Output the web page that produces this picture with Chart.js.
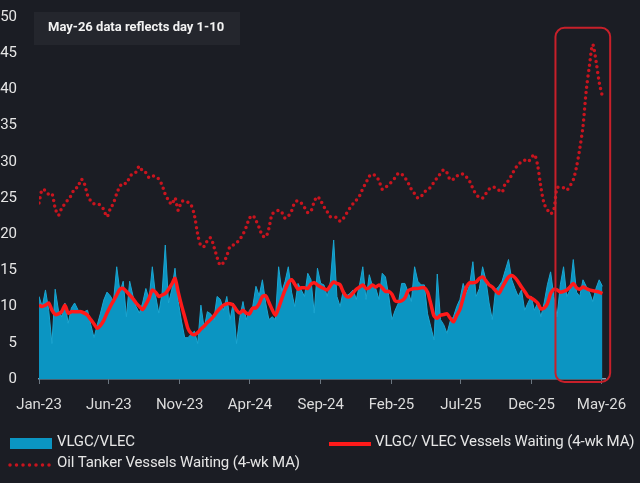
<!DOCTYPE html>
<html>
<head>
<meta charset="utf-8">
<script src="https://cdn.jsdelivr.net/npm/chart.js@4.4.1/dist/chart.umd.min.js"></script>
<style>
html, body { margin: 0; padding: 0; background: #1b1d24; }
#wrap { width: 640px; height: 483px; position: relative; }
</style>
</head>
<body>
<div id="wrap"><canvas id="chart" width="640" height="483"></canvas></div>
<script>
// weekly series, first week = start of Jan-23
const startDate = '2023-01-01';

const vlgc = [
    11.4, 10.0, 12.3, 9.5, 4.9, 12.4, 9.5, 8.6, 10.5, 7.7,
    9.8, 10.5, 9.6, 9.1, 9.3, 9.5, 7.5, 5.7, 7.5, 9.1,
    10.9, 12.0, 11.5, 10.7, 15.5, 12.0, 13.5, 8.6, 13.5, 11.5,
    10.0, 9.1, 10.5, 12.5, 11.0, 15.5, 11.5, 9.1, 11.8, 18.5,
    10.5, 12.3, 15.3, 10.7, 8.0, 5.7, 5.7, 6.2, 6.6, 4.9,
    10.2, 7.0, 9.3, 9.0, 8.2, 11.4, 11.0, 9.5, 11.4, 8.2,
    10.5, 4.9, 8.5, 10.7, 8.2, 9.5, 10.0, 12.8, 11.5, 13.7,
    10.5, 8.2, 8.6, 8.2, 15.5, 12.1, 13.5, 15.5, 12.0, 10.0,
    13.2, 12.3, 11.4, 14.6, 13.7, 9.1, 15.3, 13.2, 13.0, 11.4,
    13.5, 19.2, 11.4, 10.0, 12.3, 11.5, 11.8, 12.3, 11.0, 13.0,
    15.5, 11.0, 14.4, 12.8, 12.5, 11.0, 14.6, 14.1, 11.5, 8.2,
    9.5, 10.5, 13.2, 13.2, 12.0, 10.7, 15.5, 13.5, 13.0, 13.0,
    9.0, 7.2, 5.4, 14.5, 8.2, 7.5, 6.3, 8.0, 8.6, 10.0,
    11.0, 13.2, 11.8, 13.0, 16.2, 11.4, 12.5, 15.5, 13.7, 10.5,
    8.2, 12.3, 12.8, 13.5, 15.0, 16.5, 13.7, 12.5, 11.4, 12.3,
    9.5, 10.5, 11.4, 9.5, 10.5, 8.6, 10.5, 13.0, 14.8, 11.4,
    8.6, 13.0, 15.5, 11.4, 12.3, 16.5, 12.0, 11.4, 13.7, 12.8,
    12.0, 10.7, 12.5, 13.7, 12.8
];

const vlgcMA = [
    10.2, 10.0, 10.2, 10.5, 9.5, 8.9, 9.0, 9.3, 10.2, 9.1,
    9.3, 9.3, 9.3, 9.3, 9.1, 8.8, 8.2, 7.6, 7.0, 7.4,
    8.1, 9.1, 10.0, 10.8, 11.6, 12.4, 12.5, 12.1, 11.6, 11.1,
    10.5, 10.0, 9.6, 10.3, 11.2, 12.3, 12.0, 11.4, 11.6, 11.8,
    12.4, 13.1, 13.9, 12.0, 10.2, 8.6, 7.0, 6.3, 6.1, 6.4,
    6.9, 7.3, 7.8, 8.2, 8.7, 9.3, 9.8, 10.2, 10.4, 10.4,
    10.2, 9.5, 9.1, 9.5, 9.1, 9.0, 9.8, 9.8, 10.4, 11.4,
    11.5, 10.6, 9.6, 8.8, 9.8, 11.1, 12.3, 13.3, 13.7, 13.1,
    12.4, 12.6, 12.6, 12.5, 13.1, 13.3, 13.0, 12.7, 12.5, 12.3,
    12.9, 13.4, 13.2, 13.0, 12.0, 11.4, 11.4, 11.9, 12.4, 12.7,
    13.0, 12.5, 12.6, 13.0, 12.7, 13.0, 12.6, 12.1, 12.1, 11.7,
    10.8, 10.7, 10.8, 11.2, 12.2, 12.4, 12.5, 12.5, 12.6, 12.6,
    12.0, 10.4, 8.7, 8.4, 8.8, 8.9, 9.0, 8.4, 7.9, 8.8,
    9.6, 11.2, 12.7, 13.3, 13.3, 13.4, 13.9, 14.1, 13.6, 13.0,
    12.7, 12.2, 11.8, 12.6, 13.4, 14.1, 14.3, 14.0, 13.4, 12.7,
    12.1, 11.4, 11.2, 10.9, 10.5, 9.7, 9.8, 10.4, 11.8, 12.4,
    12.3, 12.0, 12.1, 12.3, 12.7, 13.2, 12.6, 12.4, 12.7, 12.5,
    12.3, 12.2, 12.1, 12.0, 11.8
];

const oilMA = [
    24.3, 26.2, 26.0, 25.5, 25.6, 23.6, 22.6, 23.6, 24.2, 24.8,
    25.4, 26.3, 26.5, 27.6, 27.0, 25.4, 24.6, 24.2, 24.2, 24.0,
    23.4, 22.4, 23.5, 24.3, 25.6, 26.6, 27.1, 27.0, 27.9, 28.4,
    28.6, 29.4, 28.7, 28.5, 27.8, 28.0, 28.0, 27.6, 26.8, 25.5,
    24.7, 24.1, 25.0, 23.3, 24.5, 24.6, 24.4, 24.0, 22.6, 20.0,
    18.4, 18.3, 19.1, 19.5, 18.3, 16.8, 15.7, 16.1, 17.0, 18.3,
    18.5, 18.8, 19.3, 20.0, 21.0, 22.2, 22.6, 21.9, 20.9, 19.8,
    19.6, 20.8, 22.8, 23.0, 23.3, 23.0, 22.2, 22.5, 23.2, 24.4,
    24.6, 24.3, 23.7, 23.0, 23.2, 24.5, 25.2, 24.6, 23.8, 23.1,
    22.4, 22.4, 22.3, 21.8, 22.2, 22.9, 23.6, 24.2, 24.7, 25.3,
    26.3, 27.1, 28.0, 28.3, 28.0, 27.4, 26.2, 26.5, 26.8, 27.3,
    27.8, 28.4, 28.3, 27.8, 27.1, 26.2, 25.6, 25.0, 25.2, 25.8,
    26.2, 26.5, 27.2, 27.8, 28.4, 28.9, 28.5, 27.5, 27.6, 28.0,
    28.3, 28.3, 27.9, 27.3, 26.3, 25.5, 25.1, 25.0, 25.6, 26.2,
    26.5, 26.4, 26.1, 25.8, 27.0, 27.4, 28.2, 29.0, 29.6, 30.0,
    30.2, 30.0, 30.5, 31.0, 29.5, 26.5, 24.2, 23.4, 22.8, 23.4,
    26.4, 26.5, 26.4, 26.1, 26.7, 27.5, 29.3, 31.8, 34.9, 39.8,
    43.3, 46.2, 44.0, 41.0, 39.0
];

const tickDates = ['2023-01-01', '2023-06-01', '2023-11-01', '2024-04-01', '2024-09-01',
    '2025-02-01', '2025-07-01', '2025-12-01', '2026-05-01'];
const tickLabels = ['Jan-23', 'Jun-23', 'Nov-23', 'Apr-24', 'Sep-24', 'Feb-25', 'Jul-25', 'Dec-25', 'May-26'];

// highlighted window (weeks) and value range for the red box
const boxWeeks = [159.5, 176.4];
const boxValues = [-0.4, 48.5];

const noteText = 'May-26 data reflects day 1-10';
const seriesNames = ['VLGC/VLEC', 'VLGC/ VLEC Vessels Waiting (4-wk MA)', 'Oil Tanker Vessels Waiting (4-wk MA)'];

const DAY = 86400000;
const toWeek = d => (new Date(d) - new Date(startDate)) / (7 * DAY);
const tickWeeks = tickDates.map(toWeek);
const asXY = arr => arr.map((v, i) => ({ x: i, y: v }));

const FONT = 'Roboto, "Noto Sans", sans-serif';
const BG = '#1b1d24';
const AREA = '#0b95c2';
const RED = '#ff1a1a';
const DOT_RED = '#c8141e';

const bgPlugin = {
    id: 'bg',
    beforeDraw(chart) {
        const ctx = chart.ctx;
        ctx.save();
        ctx.fillStyle = BG;
        ctx.fillRect(0, 0, chart.width, chart.height);
        ctx.restore();
    }
};

const boxPlugin = {
    id: 'highlight',
    afterDatasetsDraw(chart) {
        const { ctx, scales: { x, y } } = chart;
        const l = x.getPixelForValue(boxWeeks[0]);
        const r = x.getPixelForValue(boxWeeks[1]);
        const t = y.getPixelForValue(boxValues[1]);
        const b = y.getPixelForValue(boxValues[0]);
        ctx.save();
        ctx.strokeStyle = '#c8202a';
        ctx.lineWidth = 2;
        ctx.beginPath();
        ctx.roundRect(l, t, r - l, b - t, 9);
        ctx.stroke();
        ctx.restore();
    }
};

const notePlugin = {
    id: 'note',
    afterDraw(chart) {
        const ctx = chart.ctx;
        ctx.save();
        ctx.fillStyle = 'rgba(255,255,255,0.045)';
        ctx.fillRect(34, 12, 206, 33);
        ctx.fillStyle = '#f2f2f2';
        ctx.font = 'bold 13px ' + FONT;
        ctx.textBaseline = 'middle';
        ctx.fillText(noteText, 48, 28);
        ctx.restore();
    }
};

const legendPlugin = {
    id: 'customLegend',
    afterDraw(chart) {
        const ctx = chart.ctx;
        const ds = chart.data.datasets;
        ctx.save();
        ctx.font = '15px ' + FONT;
        ctx.letterSpacing = '-0.15px';
        ctx.textBaseline = 'middle';
        // area swatch
        ctx.fillStyle = ds[0].backgroundColor;
        ctx.fillRect(10, 438, 42, 11);
        ctx.fillStyle = '#e6e6e6';
        ctx.fillText(ds[0].label, 57, 442);
        // MA line
        ctx.strokeStyle = ds[1].borderColor;
        ctx.lineWidth = 4;
        ctx.beginPath();
        ctx.moveTo(329, 444);
        ctx.lineTo(371, 444);
        ctx.stroke();
        ctx.fillText(ds[1].label, 375, 442);
        // dotted line
        ctx.strokeStyle = ds[2].borderColor;
        ctx.lineWidth = 3.5;
        ctx.lineCap = 'round';
        ctx.setLineDash([0, 6.5]);
        ctx.beginPath();
        ctx.moveTo(10, 465);
        ctx.lineTo(50, 465);
        ctx.stroke();
        ctx.setLineDash([]);
        ctx.fillText(ds[2].label, 57, 463);
        ctx.restore();
    }
};

new Chart(document.getElementById('chart'), {
    type: 'line',
    data: {
        datasets: [
            {
                label: seriesNames[0],
                data: asXY(vlgc),
                backgroundColor: AREA,
                borderColor: '#1aa6d2',
                borderWidth: 1,
                fill: 'origin',
                pointRadius: 0,
                tension: 0,
                order: 3
            },
            {
                label: seriesNames[1],
                data: asXY(vlgcMA),
                borderColor: RED,
                borderWidth: 3.5,
                fill: false,
                pointRadius: 0,
                tension: 0.25,
                order: 1
            },
            {
                label: seriesNames[2],
                data: asXY(oilMA),
                borderColor: DOT_RED,
                borderWidth: 3.5,
                borderDash: [0, 5.5],
                borderCapStyle: 'round',
                fill: false,
                pointRadius: 0,
                tension: 0.3,
                order: 2
            }
        ]
    },
    options: {
        responsive: false,
        animation: false,
        layout: { padding: { top: 17, right: 35, bottom: 70, left: 0 } },
        plugins: {
            legend: { display: false },
            tooltip: { enabled: false }
        },
        scales: {
            x: {
                type: 'linear',
                min: 0,
                max: 174.8,
                afterBuildTicks: s => { s.ticks = tickWeeks.map(v => ({ value: v })); },
                afterFit: s => { s.height = 34; },
                grid: { display: true, drawOnChartArea: false, drawTicks: true, tickLength: 5, color: '#6c7680' },
                border: { display: true, color: '#7fa3b8', width: 1.5 },
                ticks: {
                    color: '#dcdcdc',
                    font: { family: FONT, size: 15 },
                    padding: 12,
                    maxRotation: 0,
                    autoSkip: false,
                    callback: (v, i) => tickLabels[i]
                }
            },
            y: {
                min: 0,
                max: 50,
                afterFit: s => { s.width = 39; s.paddingTop = 0; s.paddingBottom = 0; },
                grid: { display: false },
                border: { display: false },
                ticks: {
                    stepSize: 5,
                    color: '#e6e6e6',
                    font: { family: FONT, size: 15 },
                    padding: 14
                }
            }
        }
    },
    plugins: [bgPlugin, boxPlugin, notePlugin, legendPlugin]
});
</script>
</body>
</html>
